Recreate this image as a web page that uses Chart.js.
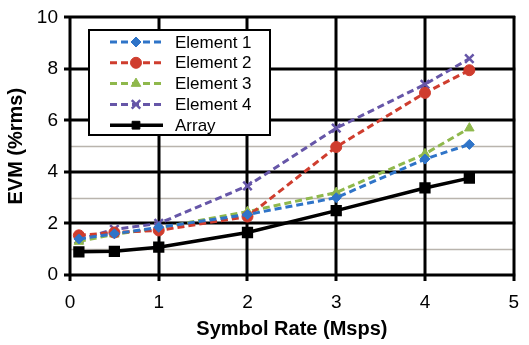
<!DOCTYPE html>
<html>
<head>
<meta charset="utf-8">
<script src="https://cdn.jsdelivr.net/npm/chart.js@4"></script>
<style>
  html, body { margin: 0; padding: 0; background: #fff; }
  #wrap { width: 529px; height: 345px; position: relative; }
</style>
</head>
<body>
<div id="wrap"><canvas id="evmChart"></canvas></div>
<script>
// symbol rate (Msps)
const rates = [0.1, 0.5, 1, 2, 3, 4, 4.5];
// EVM (%rms)
const element1 = [1.40, 1.60, 1.85, 2.35, 3.00, 4.50, 5.07];
const element2 = [1.54, 1.65, 1.73, 2.27, 4.97, 7.07, 7.95];
const element3 = [1.30, 1.58, 1.82, 2.46, 3.20, 4.70, 5.70];
const element4 = [1.38, 1.77, 2.00, 3.46, 5.70, 7.40, 8.40];
const arrayEvm = [0.90, 0.92, 1.08, 1.65, 2.50, 3.38, 3.76];
const seriesNames = ["Element 1", "Element 2", "Element 3", "Element 4", "Array"];
const yTicks = [0, 2, 4, 6, 8, 10];
const yMinor = [1, 3, 5];
const xTicks = [0, 1, 2, 3, 4, 5];

const pts = vals => vals.map((v, i) => ({x: rates[i], y: v}));

function dashed(label, vals, color, style, radius){
    return {
        label: label, data: pts(vals),
        borderColor: color, backgroundColor: color,
        borderWidth: 3, borderDash: [7, 4],
        pointStyle: style, pointRadius: radius,
        pointBorderColor: color, pointBackgroundColor: color, pointBorderWidth: style==="crossRot"?2.5:1
    };
}

const datasets = [
    dashed(seriesNames[0], element1, "#2f74c8", "rectRot", 5),
    dashed(seriesNames[1], element2, "#cf3d2e", "circle", 5.5),
    dashed(seriesNames[2], element3, "#8fb84c", "triangle", 5.5),
    dashed(seriesNames[3], element4, "#6656a8", "crossRot", 6),
    {
        label: seriesNames[4], data: pts(arrayEvm),
        borderColor: "#000", backgroundColor: "#000", borderWidth: 3.5,
        pointStyle: "rect", pointRadius: 5.5,
        pointBorderColor: "#000", pointBackgroundColor: "#000"
    }
];

// heavy black grid plus the faint gray lines at 1, 3, 5
const heavyGrid = {
    id: "heavyGrid",
    beforeDatasetsDraw(chart){
        const {ctx, chartArea, scales} = chart;
        const {left, right, top, bottom} = chartArea;
        ctx.save();
        ctx.strokeStyle = "#b9b4ad";
        ctx.lineWidth = 1.5;
        yMinor.forEach(v => {
            const py = Math.round(scales.y.getPixelForValue(v)) + 0.5;
            ctx.beginPath(); ctx.moveTo(left, py); ctx.lineTo(right, py); ctx.stroke();
        });
        ctx.strokeStyle = "#000";
        ctx.lineWidth = 3;
        yTicks.forEach(v => {
            const py = Math.round(scales.y.getPixelForValue(v));
            ctx.beginPath(); ctx.moveTo(left - 6, py); ctx.lineTo(right + 1.5, py); ctx.stroke();
        });
        xTicks.forEach(v => {
            const px = Math.round(scales.x.getPixelForValue(v));
            ctx.beginPath(); ctx.moveTo(px, top - 1.5); ctx.lineTo(px, bottom + 6); ctx.stroke();
        });
        ctx.restore();
    }
};

// legend box drawn inside the plot, like the original
const boxLegend = {
    id: "boxLegend",
    afterDraw(chart){
        const ctx = chart.ctx;
        const bx = 89, by = 30, bw = 181, bh = 105;
        ctx.save();
        ctx.fillStyle = "#fff";
        ctx.fillRect(bx, by, bw, bh);
        ctx.lineWidth = 2;
        ctx.strokeStyle = "#000";
        ctx.strokeRect(bx, by, bw, bh);
        chart.data.datasets.forEach((ds, i) => {
            const y = 42 + i * 20.8;
            ctx.beginPath();
            ctx.setLineDash(ds.borderDash || []);
            ctx.lineWidth = ds.borderWidth;
            ctx.strokeStyle = ds.borderColor;
            ctx.moveTo(110, y);
            ctx.lineTo(163, y);
            ctx.stroke();
            ctx.setLineDash([]);
            ctx.fillStyle = ds.borderColor;
            ctx.strokeStyle = ds.borderColor;
            ctx.lineWidth = ds.pointBorderWidth || 1;
            Chart.helpers.drawPoint(ctx, {
                pointStyle: ds.pointStyle, radius: ds.pointRadius, rotation: 0,
                borderWidth: ds.pointBorderWidth || 1
            }, 136, y);
            ctx.fillStyle = "#000";
            ctx.font = "17px 'Liberation Sans', Arial, sans-serif";
            ctx.textBaseline = "middle";
            ctx.fillText(ds.label, 175, y + 1);
        });
        ctx.restore();
    }
};

const font = "'Liberation Sans', Arial, sans-serif";
const clear = "rgba(0,0,0,0)";

new Chart(document.getElementById("evmChart"), {
    type: "line",
    data: {datasets: datasets},
    plugins: [heavyGrid, boxLegend],
    options: {
        responsive: true, maintainAspectRatio: false, animation: false,
        layout: {padding: {top: 16, right: 9, left: 0, bottom: 0}},
        plugins: {legend: {display: false}, tooltip: {enabled: false}},
        elements: {line: {tension: 0}},
        scales: {
            x: {
                type: "linear", min: 0, max: 5,
                afterBuildTicks: s => { s.ticks = xTicks.map(v => ({value: v})); },
                grid: {color: clear, tickColor: clear, tickLength: 6},
                border: {color: clear, width: 3.5},
                ticks: {color: "#000", font: {family: font, size: 19}, padding: 10},
                title: {display: true, text: "Symbol Rate (Msps)", color: "#000",
                        font: {family: font, size: 20, weight: "bold"}, padding: {top: 0}},
                afterFit: s => { s.height = 70; }
            },
            y: {
                min: 0, max: 10,
                afterBuildTicks: s => { s.ticks = yTicks.map(v => ({value: v})); },
                grid: {color: clear, tickColor: clear, tickLength: 6},
                border: {color: clear, width: 3.5},
                ticks: {color: "#000", font: {family: font, size: 19}, padding: 6},
                title: {display: true, text: "EVM (%rms)", color: "#000",
                        font: {family: font, size: 20, weight: "bold"}, padding: {bottom: 4}},
                afterFit: s => { s.width = 70; }
            }
        }
    }
});
</script>
</body>
</html>
